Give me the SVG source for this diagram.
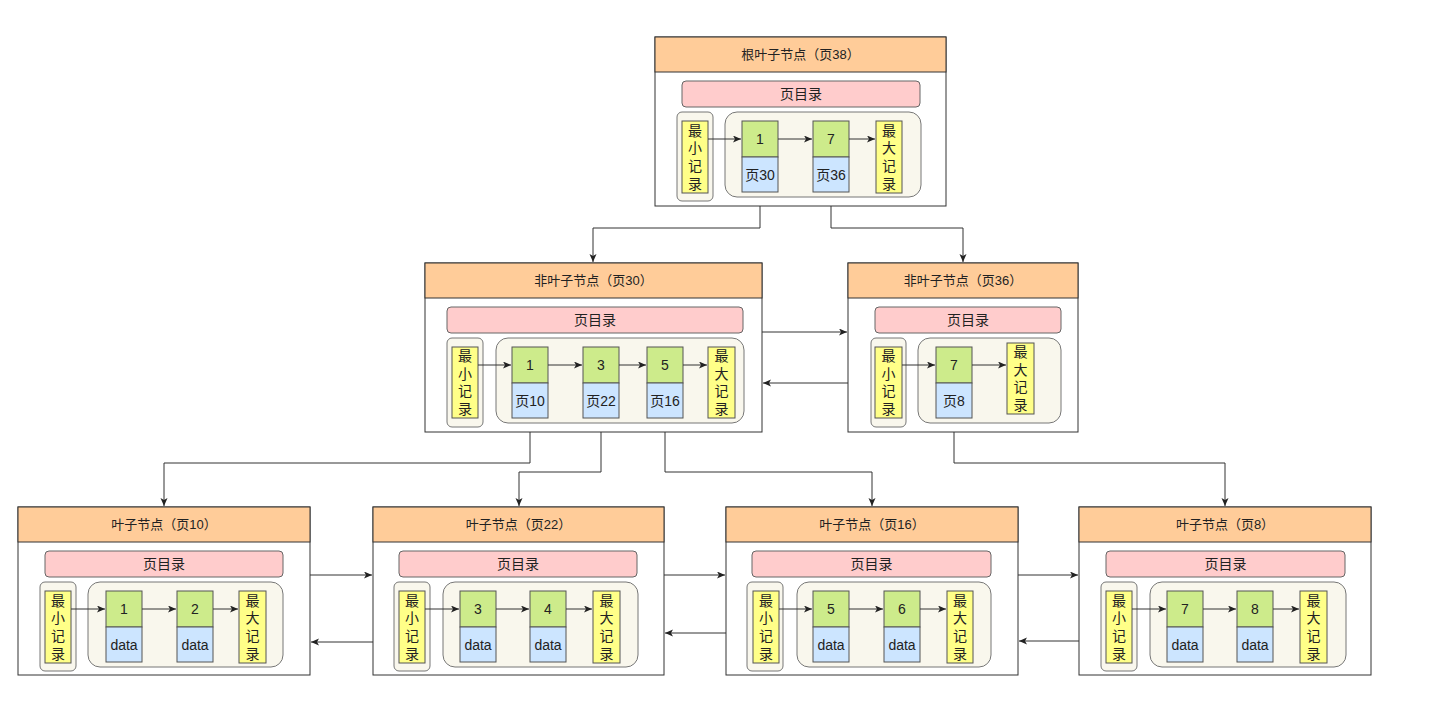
<svg xmlns="http://www.w3.org/2000/svg" width="1433" height="707" viewBox="0 0 1433 707">
<style>
text{font-family:"Liberation Sans","Noto Sans CJK SC",sans-serif;fill:#222;text-anchor:middle;dominant-baseline:central}
.t{font-size:13px}
.r{font-size:14px}
.d{font-size:14px}
.v{font-size:14px}
.box{fill:#fff;stroke:#333;stroke-width:1}
.hdr{fill:#ffcc99;stroke:#333;stroke-width:1}
.dir{fill:#ffcccc;stroke:#666;stroke-width:1}
.grp{fill:#f9f7ed;stroke:#777;stroke-width:1}
.yel{fill:#ffff88;stroke:#555;stroke-width:1}
.grn{fill:#cdeb8b;stroke:#555;stroke-width:1}
.blu{fill:#cce5ff;stroke:#555;stroke-width:1}
.ln{fill:none;stroke:#333;stroke-width:1;marker-end:url(#ah)}
</style>
<defs>
<marker id="ah" markerUnits="userSpaceOnUse" markerWidth="9" markerHeight="8" refX="8" refY="3.5" orient="auto">
<path d="M0,0 L8,3.5 L0,7 L2,3.5 z" fill="#222"/>
</marker>
</defs>
<rect width="1433" height="707" fill="#fff"/>

<g id="connectors">
<path class="ln" d="M760,192 V228 H593 V262"/>
<path class="ln" d="M831,192 V228 H963 V262"/>
<path class="ln" d="M530,418 V463 H164 V506"/>
<path class="ln" d="M601,418 V472 H519 V506"/>
<path class="ln" d="M665,418 V472 H872 V506"/>
<path class="ln" d="M954,418 V463 H1225 V506"/>
<path class="ln" d="M762,332 H847"/>
<path class="ln" d="M848,383 H763"/>
<path class="ln" d="M310,575 H372"/>
<path class="ln" d="M373,642 H311"/>
<path class="ln" d="M664,575 H725"/>
<path class="ln" d="M726,633 H665"/>
<path class="ln" d="M1018,575 H1078"/>
<path class="ln" d="M1079,641 H1019"/>
</g>

<g id="root-38">
<rect class="box" x="655" y="37" width="291" height="169"/>
<rect class="hdr" x="655" y="37" width="291" height="35"/>
<text class="t" x="800.5" y="54.5">根叶子节点（页38）</text>
<rect class="dir" x="682" y="81" width="238" height="26" rx="4"/>
<text class="d" x="801" y="94">页目录</text>
<rect class="grp" x="677" y="112" width="36" height="89" rx="5"/>
<rect class="yel" x="682" y="121" width="26" height="72"/>
<text class="v"><tspan x="695" y="130.5">最</tspan><tspan x="695" y="148.2">小</tspan><tspan x="695" y="165.8">记</tspan><tspan x="695" y="183.5">录</tspan></text>
<rect class="grp" x="725" y="112" width="196" height="85" rx="12"/>
<rect class="grn" x="742" y="121" width="36" height="36"/>
<rect class="blu" x="742" y="157" width="36" height="35"/>
<text class="r" x="760" y="139">1</text>
<text class="r" x="760" y="174.5">页30</text>
<rect class="grn" x="813" y="121" width="36" height="36"/>
<rect class="blu" x="813" y="157" width="36" height="35"/>
<text class="r" x="831" y="139">7</text>
<text class="r" x="831" y="174.5">页36</text>
<rect class="yel" x="876" y="121" width="26" height="72"/>
<text class="v"><tspan x="889" y="130.5">最</tspan><tspan x="889" y="148.2">大</tspan><tspan x="889" y="165.8">记</tspan><tspan x="889" y="183.5">录</tspan></text>
<path class="ln" d="M708,139 H741"/>
<path class="ln" d="M778,139 H812"/>
<path class="ln" d="M849,139 H875"/>
</g>

<g id="nonleaf-30">
<rect class="box" x="425" y="263" width="337" height="169"/>
<rect class="hdr" x="425" y="263" width="337" height="35"/>
<text class="t" x="593.5" y="280.5">非叶子节点（页30）</text>
<rect class="dir" x="447" y="307" width="296" height="26" rx="4"/>
<text class="d" x="595" y="320">页目录</text>
<rect class="grp" x="447" y="338" width="36" height="89" rx="5"/>
<rect class="yel" x="452" y="347" width="26" height="71"/>
<text class="v"><tspan x="465" y="356">最</tspan><tspan x="465" y="373.7">小</tspan><tspan x="465" y="391.3">记</tspan><tspan x="465" y="409">录</tspan></text>
<rect class="grp" x="496" y="338" width="248" height="85" rx="12"/>
<rect class="grn" x="512" y="347" width="36" height="36"/>
<rect class="blu" x="512" y="383" width="36" height="35"/>
<text class="r" x="530" y="365">1</text>
<text class="r" x="530" y="400.5">页10</text>
<rect class="grn" x="583" y="347" width="36" height="36"/>
<rect class="blu" x="583" y="383" width="36" height="35"/>
<text class="r" x="601" y="365">3</text>
<text class="r" x="601" y="400.5">页22</text>
<rect class="grn" x="647" y="347" width="36" height="36"/>
<rect class="blu" x="647" y="383" width="36" height="35"/>
<text class="r" x="665" y="365">5</text>
<text class="r" x="665" y="400.5">页16</text>
<rect class="yel" x="708" y="347" width="27" height="71"/>
<text class="v"><tspan x="721.5" y="356">最</tspan><tspan x="721.5" y="373.7">大</tspan><tspan x="721.5" y="391.3">记</tspan><tspan x="721.5" y="409">录</tspan></text>
<path class="ln" d="M478,365 H511"/>
<path class="ln" d="M548,365 H582"/>
<path class="ln" d="M619,365 H646"/>
<path class="ln" d="M683,365 H707"/>
</g>

<g id="nonleaf-36">
<rect class="box" x="848" y="263" width="230" height="169"/>
<rect class="hdr" x="848" y="263" width="230" height="35"/>
<text class="t" x="963" y="280.5">非叶子节点（页36）</text>
<rect class="dir" x="875" y="307" width="186" height="26" rx="4"/>
<text class="d" x="968" y="320">页目录</text>
<rect class="grp" x="871" y="338" width="35" height="89" rx="5"/>
<rect class="yel" x="875" y="347" width="27" height="71"/>
<text class="v"><tspan x="888.5" y="356">最</tspan><tspan x="888.5" y="373.7">小</tspan><tspan x="888.5" y="391.3">记</tspan><tspan x="888.5" y="409">录</tspan></text>
<rect class="grp" x="918" y="338" width="143" height="85" rx="12"/>
<rect class="grn" x="936" y="347" width="36" height="36"/>
<rect class="blu" x="936" y="383" width="36" height="35"/>
<text class="r" x="954" y="365">7</text>
<text class="r" x="954" y="400.5">页8</text>
<rect class="yel" x="1007" y="343" width="27" height="71"/>
<text class="v"><tspan x="1020.5" y="352">最</tspan><tspan x="1020.5" y="369.7">大</tspan><tspan x="1020.5" y="387.3">记</tspan><tspan x="1020.5" y="405">录</tspan></text>
<path class="ln" d="M902,365 H935"/>
<path class="ln" d="M972,365 H1006"/>
</g>

<g id="leaf-10">
<rect class="box" x="18" y="507" width="292" height="168"/>
<rect class="hdr" x="18" y="507" width="292" height="35"/>
<text class="t" x="164" y="524.5">叶子节点（页10）</text>
<rect class="dir" x="45" y="551" width="238" height="26" rx="4"/>
<text class="d" x="164" y="564">页目录</text>
<rect class="grp" x="40" y="582" width="36" height="89" rx="5"/>
<rect class="yel" x="45" y="591" width="26" height="72"/>
<text class="v"><tspan x="58" y="600.5">最</tspan><tspan x="58" y="618.2">小</tspan><tspan x="58" y="635.8">记</tspan><tspan x="58" y="653.5">录</tspan></text>
<rect class="grp" x="88" y="582" width="195" height="85" rx="12"/>
<rect class="grn" x="106" y="591" width="36" height="36"/>
<rect class="blu" x="106" y="627" width="36" height="35"/>
<text class="r" x="124" y="609">1</text>
<text class="r" x="124" y="644.5">data</text>
<rect class="grn" x="177" y="591" width="36" height="36"/>
<rect class="blu" x="177" y="627" width="36" height="35"/>
<text class="r" x="195" y="609">2</text>
<text class="r" x="195" y="644.5">data</text>
<rect class="yel" x="239" y="591" width="27" height="72"/>
<text class="v"><tspan x="252.5" y="600.5">最</tspan><tspan x="252.5" y="618.2">大</tspan><tspan x="252.5" y="635.8">记</tspan><tspan x="252.5" y="653.5">录</tspan></text>
<path class="ln" d="M71,609 H105"/>
<path class="ln" d="M142,609 H176"/>
<path class="ln" d="M213,609 H238"/>
</g>

<g id="leaf-22">
<rect class="box" x="373" y="507" width="291" height="168"/>
<rect class="hdr" x="373" y="507" width="291" height="35"/>
<text class="t" x="518.5" y="524.5">叶子节点（页22）</text>
<rect class="dir" x="399" y="551" width="238" height="26" rx="4"/>
<text class="d" x="518" y="564">页目录</text>
<rect class="grp" x="394" y="582" width="36" height="89" rx="5"/>
<rect class="yel" x="399" y="591" width="26" height="72"/>
<text class="v"><tspan x="412" y="600.5">最</tspan><tspan x="412" y="618.2">小</tspan><tspan x="412" y="635.8">记</tspan><tspan x="412" y="653.5">录</tspan></text>
<rect class="grp" x="443" y="582" width="195" height="85" rx="12"/>
<rect class="grn" x="460" y="591" width="36" height="36"/>
<rect class="blu" x="460" y="627" width="36" height="35"/>
<text class="r" x="478" y="609">3</text>
<text class="r" x="478" y="644.5">data</text>
<rect class="grn" x="530" y="591" width="36" height="36"/>
<rect class="blu" x="530" y="627" width="36" height="35"/>
<text class="r" x="548" y="609">4</text>
<text class="r" x="548" y="644.5">data</text>
<rect class="yel" x="593" y="591" width="27" height="72"/>
<text class="v"><tspan x="606.5" y="600.5">最</tspan><tspan x="606.5" y="618.2">大</tspan><tspan x="606.5" y="635.8">记</tspan><tspan x="606.5" y="653.5">录</tspan></text>
<path class="ln" d="M425,609 H459"/>
<path class="ln" d="M496,609 H529"/>
<path class="ln" d="M566,609 H592"/>
</g>

<g id="leaf-16">
<rect class="box" x="726" y="507" width="292" height="168"/>
<rect class="hdr" x="726" y="507" width="292" height="35"/>
<text class="t" x="872" y="524.5">叶子节点（页16）</text>
<rect class="dir" x="752" y="551" width="239" height="26" rx="4"/>
<text class="d" x="871.5" y="564">页目录</text>
<rect class="grp" x="747" y="582" width="36" height="89" rx="5"/>
<rect class="yel" x="753" y="591" width="26" height="72"/>
<text class="v"><tspan x="766" y="600.5">最</tspan><tspan x="766" y="618.2">小</tspan><tspan x="766" y="635.8">记</tspan><tspan x="766" y="653.5">录</tspan></text>
<rect class="grp" x="797" y="582" width="194" height="85" rx="12"/>
<rect class="grn" x="813" y="591" width="36" height="36"/>
<rect class="blu" x="813" y="627" width="36" height="35"/>
<text class="r" x="831" y="609">5</text>
<text class="r" x="831" y="644.5">data</text>
<rect class="grn" x="884" y="591" width="36" height="36"/>
<rect class="blu" x="884" y="627" width="36" height="35"/>
<text class="r" x="902" y="609">6</text>
<text class="r" x="902" y="644.5">data</text>
<rect class="yel" x="947" y="591" width="26" height="72"/>
<text class="v"><tspan x="960" y="600.5">最</tspan><tspan x="960" y="618.2">大</tspan><tspan x="960" y="635.8">记</tspan><tspan x="960" y="653.5">录</tspan></text>
<path class="ln" d="M779,609 H812"/>
<path class="ln" d="M849,609 H883"/>
<path class="ln" d="M920,609 H946"/>
</g>

<g id="leaf-8">
<rect class="box" x="1079" y="507" width="292" height="168"/>
<rect class="hdr" x="1079" y="507" width="292" height="35"/>
<text class="t" x="1225" y="524.5">叶子节点（页8）</text>
<rect class="dir" x="1106" y="551" width="239" height="26" rx="4"/>
<text class="d" x="1225.5" y="564">页目录</text>
<rect class="grp" x="1101" y="582" width="36" height="89" rx="5"/>
<rect class="yel" x="1106" y="591" width="26" height="72"/>
<text class="v"><tspan x="1119" y="600.5">最</tspan><tspan x="1119" y="618.2">小</tspan><tspan x="1119" y="635.8">记</tspan><tspan x="1119" y="653.5">录</tspan></text>
<rect class="grp" x="1150" y="582" width="196" height="85" rx="12"/>
<rect class="grn" x="1167" y="591" width="36" height="36"/>
<rect class="blu" x="1167" y="627" width="36" height="35"/>
<text class="r" x="1185" y="609">7</text>
<text class="r" x="1185" y="644.5">data</text>
<rect class="grn" x="1237" y="591" width="36" height="36"/>
<rect class="blu" x="1237" y="627" width="36" height="35"/>
<text class="r" x="1255" y="609">8</text>
<text class="r" x="1255" y="644.5">data</text>
<rect class="yel" x="1300" y="591" width="27" height="72"/>
<text class="v"><tspan x="1313.5" y="600.5">最</tspan><tspan x="1313.5" y="618.2">大</tspan><tspan x="1313.5" y="635.8">记</tspan><tspan x="1313.5" y="653.5">录</tspan></text>
<path class="ln" d="M1132,609 H1166"/>
<path class="ln" d="M1203,609 H1236"/>
<path class="ln" d="M1273,609 H1299"/>
</g>
</svg>
